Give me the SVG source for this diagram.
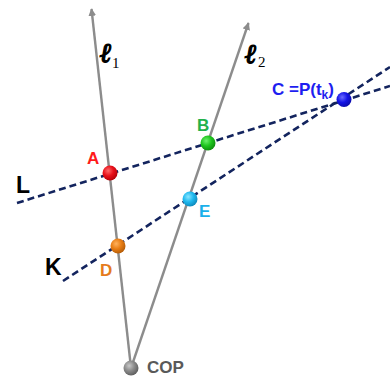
<svg xmlns="http://www.w3.org/2000/svg" width="390" height="379" viewBox="0 0 390 379">
<style>
.ray{stroke:#8c8c8c;stroke-width:2.4;fill:none}
.dash{stroke:#13245e;stroke-width:2.6;fill:none;stroke-dasharray:7 4}
.lbl{font-family:"Liberation Sans",Arial,sans-serif;font-weight:bold;font-size:17px}
.big{font-family:"Liberation Sans",Arial,sans-serif;font-weight:bold;font-size:23px;fill:#000}
.ell{font-family:"DejaVu Serif",serif;font-weight:bold;font-style:italic;font-size:27px;fill:#000;stroke:#000;stroke-width:1.3}
.sub{font-family:"Liberation Serif",serif;font-size:15px;fill:#000}
</style>
<defs>
<marker id="arr" viewBox="0 0 10 10" refX="9" refY="5" markerWidth="3.2" markerHeight="3.2" orient="auto" markerUnits="strokeWidth">
<path d="M0,0 L10,5 L0,10 z" fill="#8c8c8c"/>
</marker>
<radialGradient id="gA" cx="0.38" cy="0.35" r="0.7"><stop offset="0" stop-color="#ff6a6a"/><stop offset="0.5" stop-color="#e8101a"/><stop offset="1" stop-color="#b00008"/></radialGradient>
<radialGradient id="gB" cx="0.38" cy="0.35" r="0.7"><stop offset="0" stop-color="#6ef06e"/><stop offset="0.5" stop-color="#1ec51e"/><stop offset="1" stop-color="#0d8a0d"/></radialGradient>
<radialGradient id="gC" cx="0.38" cy="0.35" r="0.7"><stop offset="0" stop-color="#6a6aff"/><stop offset="0.5" stop-color="#1414e6"/><stop offset="1" stop-color="#0a0aa8"/></radialGradient>
<radialGradient id="gD" cx="0.38" cy="0.35" r="0.7"><stop offset="0" stop-color="#ffb25e"/><stop offset="0.5" stop-color="#e87d14"/><stop offset="1" stop-color="#b05a08"/></radialGradient>
<radialGradient id="gE" cx="0.38" cy="0.35" r="0.7"><stop offset="0" stop-color="#8ae6ff"/><stop offset="0.5" stop-color="#1fb8ee"/><stop offset="1" stop-color="#0c86b8"/></radialGradient>
<radialGradient id="gO" cx="0.38" cy="0.35" r="0.7"><stop offset="0" stop-color="#c8c8c8"/><stop offset="0.5" stop-color="#8a8a8a"/><stop offset="1" stop-color="#5a5a5a"/></radialGradient>
</defs>
<rect width="390" height="379" fill="#fff"/>
<g id="connectors">
<line class="ray" x1="131" y1="368" x2="91.5" y2="9" marker-end="url(#arr)"/>
<line class="ray" x1="131" y1="368" x2="248.5" y2="23" marker-end="url(#arr)"/>
<line class="dash" x1="17" y1="203" x2="390" y2="86"/>
<line class="dash" x1="63" y1="281" x2="390" y2="67"/>
</g>
<g id="label-l1"><text class="ell" x="100" y="62">ℓ</text><text class="sub" x="112" y="68">1</text></g>
<g id="label-l2"><text class="ell" x="245" y="63">ℓ</text><text class="sub" x="258" y="67">2</text></g>
<g id="label-L"><text class="big" x="16" y="193">L</text></g>
<g id="label-K"><text class="big" x="45" y="275">K</text></g>
<g id="node-A"><circle cx="110" cy="173" r="7.5" fill="url(#gA)"/><text class="lbl" x="87" y="164" fill="#ff1a1a">A</text></g>
<g id="node-B"><circle cx="208" cy="143" r="7.5" fill="url(#gB)"/><text class="lbl" x="197" y="131" fill="#22b14c">B</text></g>
<g id="node-C"><circle cx="344" cy="99.5" r="7.5" fill="url(#gC)"/><text class="lbl" x="272" y="95" fill="#1e1ef0">C =P(t<tspan font-size="12" dy="4">k</tspan><tspan dy="-4">)</tspan></text></g>
<g id="node-D"><circle cx="118" cy="246" r="7.5" fill="url(#gD)"/><text class="lbl" x="100" y="276" fill="#e57b1b">D</text></g>
<g id="node-E"><circle cx="190" cy="199" r="7.5" fill="url(#gE)"/><text class="lbl" x="199" y="217" fill="#1ab0ea">E</text></g>
<g id="node-COP"><circle cx="131" cy="368" r="7.5" fill="url(#gO)"/><text class="lbl" x="147" y="373" font-size="18" fill="#595959">COP</text></g>
</svg>
